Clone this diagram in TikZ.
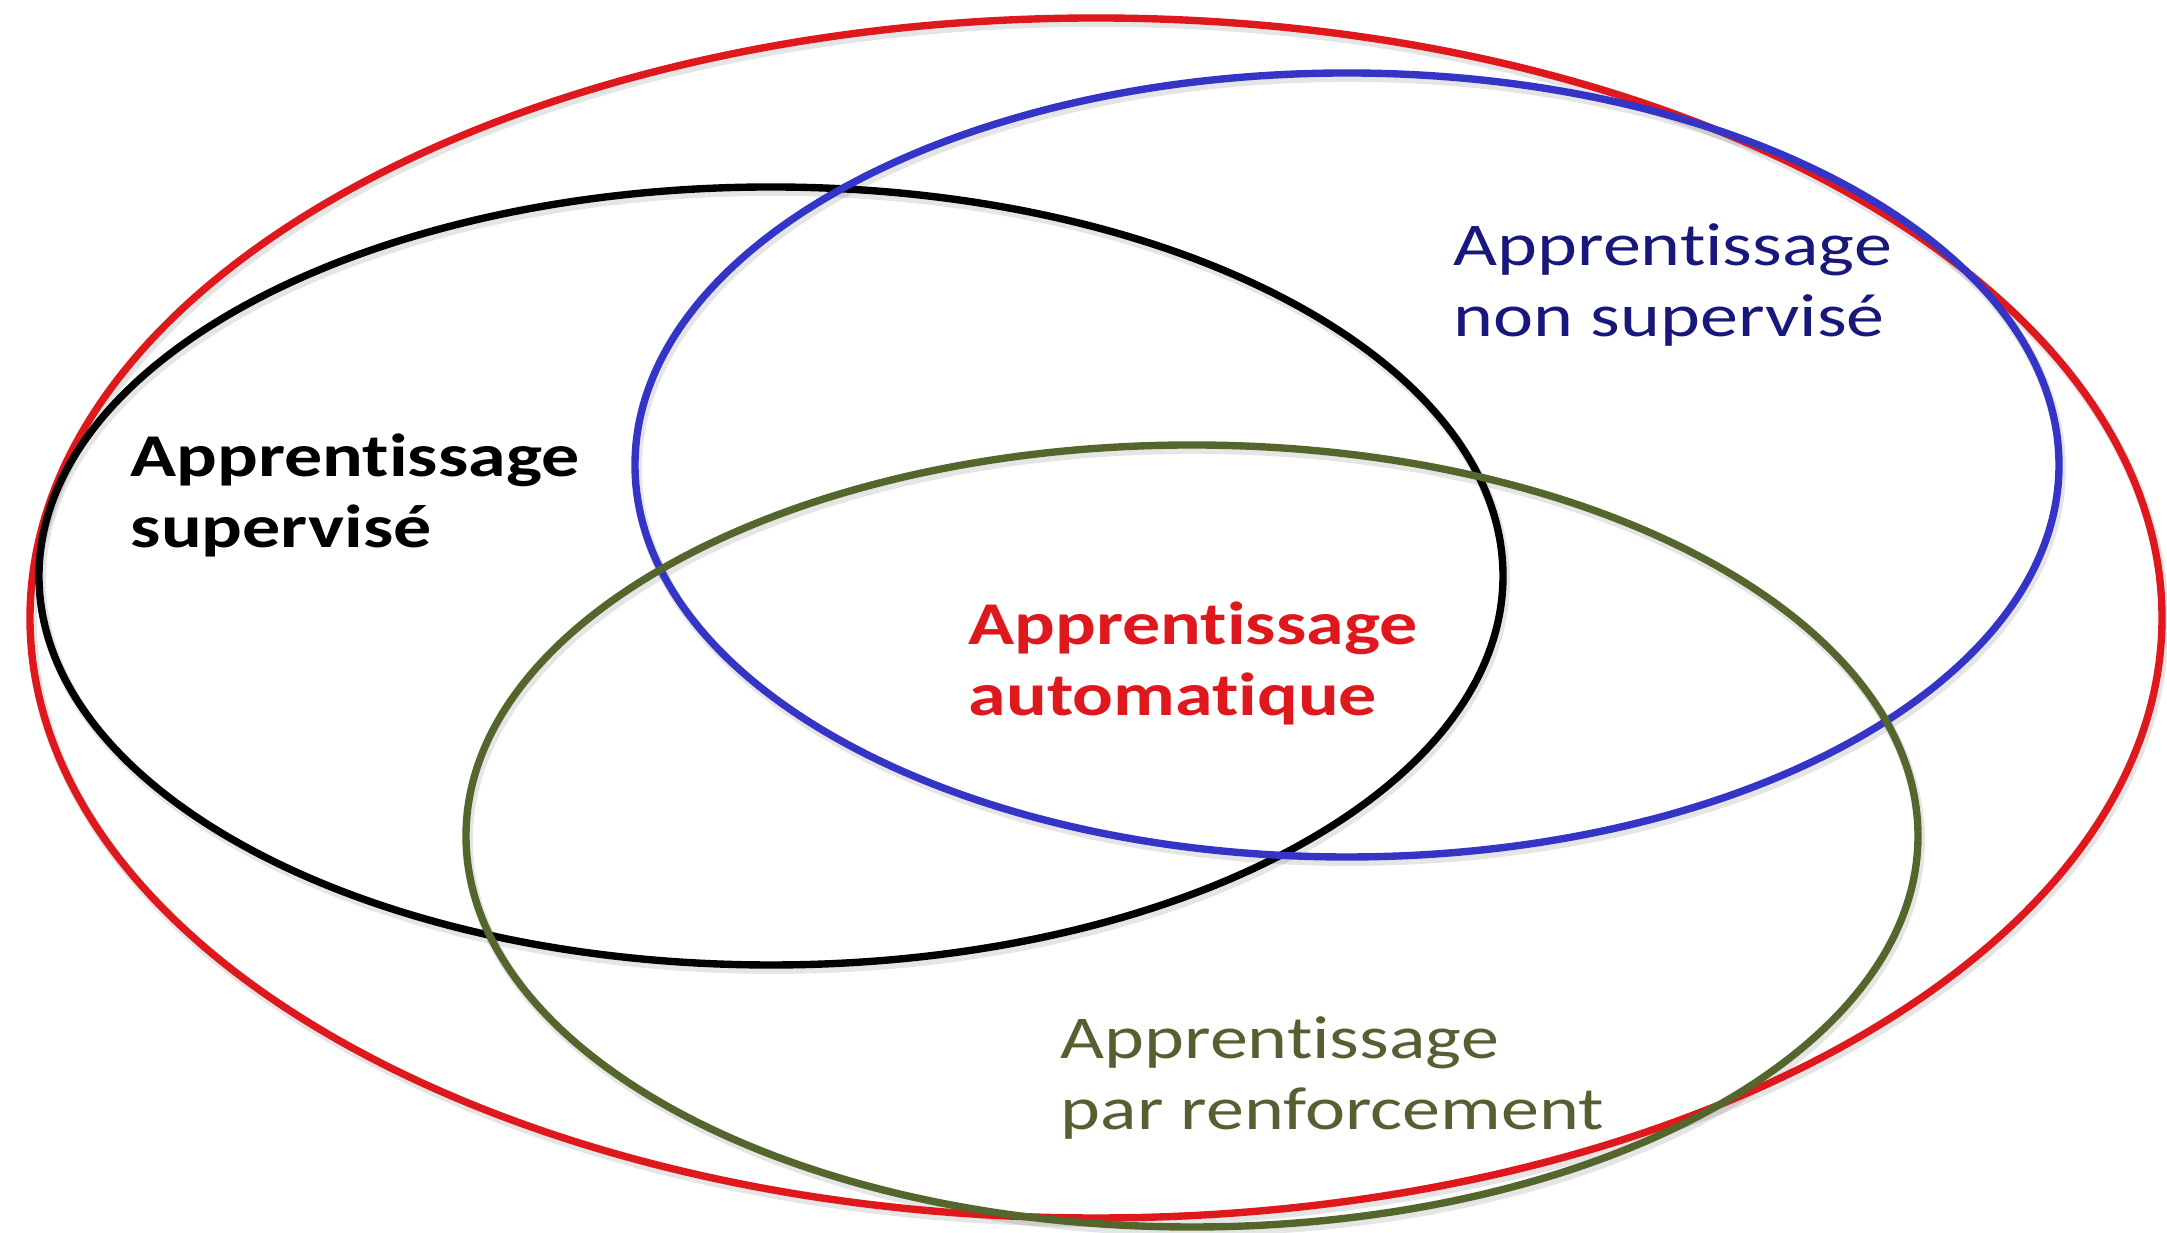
\documentclass[tikz,border=0pt]{standalone}
\usepackage{fontspec}
\setmainfont{Carlito}
\newfontfamily\labelfont[FakeStretch=1.25, Ligatures=NoCommon]{Carlito}
\usepackage{xcolor}
\usepackage{tikz}

\definecolor{setred}{RGB}{222,24,28}
\definecolor{setblue}{RGB}{52,52,198}
\definecolor{setgreen}{RGB}{84,102,44}
\definecolor{navytext}{RGB}{24,24,124}
\definecolor{olivetext}{RGB}{84,96,50}

\tikzset{
    setline/.style={draw=#1, line width=2.1pt},
    setshadow/.style={draw=black, line width=2.8pt, opacity=0.10},
    setlabel/.style={anchor=base west, inner sep=0pt, align=left, text=#1,
        font=\labelfont\fontsize{17.3}{20.2}\selectfont},
    boldlabel/.style={setlabel=#1, font=\labelfont\bfseries\fontsize{17.3}{20.2}\selectfont},
}

\begin{document}
\begin{tikzpicture}
    \useasboundingbox (0,0) rectangle (21.67,12.33);

    % ===== soft shadows under the outlines =====
    \begin{scope}[shift={(0.02,-0.04)}]
        \draw[setshadow] (10.96,6.15) ellipse (10.66 and 6.00);
        \draw[setshadow] (7.71,6.57) ellipse (7.32 and 3.89);
        \draw[setshadow] (13.47,7.68) ellipse (7.12 and 3.92);
        \draw[setshadow] (11.92,3.97) ellipse (7.26 and 3.91);
    \end{scope}

    % ===== the four sets =====
    % machine learning (outer)
    \draw[setline=setred] (10.96,6.15) ellipse (10.66 and 6.00);
    % supervised
    \draw[setline=black] (7.71,6.57) ellipse (7.32 and 3.89);
    % unsupervised
    \draw[setline=setblue] (13.47,7.68) ellipse (7.12 and 3.92);
    % reinforcement
    \draw[setline=setgreen] (11.92,3.97) ellipse (7.26 and 3.91);

    % ===== labels (anchored on the baseline of the last line) =====
    \node[boldlabel=black] (superv) at (1.30,6.85) {Apprentissage\\supervisé};
    \node[setlabel=navytext] (nonsuperv) at (14.53,8.96) {Apprentissage\\non supervisé};
    \node[boldlabel=setred] (auto) at (9.68,5.17) {Apprentissage\\automatique};
    \node[setlabel=olivetext] (renf) at (10.60,1.03) {Apprentissage\\par renforcement};
\end{tikzpicture}
\end{document}
